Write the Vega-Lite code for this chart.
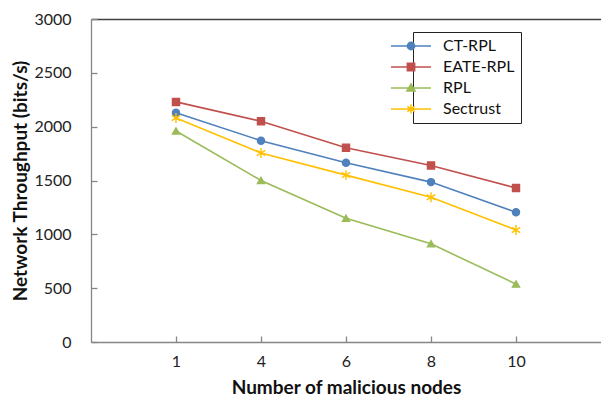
{
  "$schema": "https://vega.github.io/schema/vega-lite/v6.json",
  "autosize": "none",
  "padding": {"left": 91, "top": 19, "right": 0, "bottom": 60},
  "width": 510,
  "height": 323,
  "background": "white",
  "config": {"view": {"stroke": null}, "font": "Lato"},
  "data": {"values": [
    {"nodes": "1", "series": "CT-RPL", "value": 2130},
    {"nodes": "4", "series": "CT-RPL", "value": 1870},
    {"nodes": "6", "series": "CT-RPL", "value": 1665},
    {"nodes": "8", "series": "CT-RPL", "value": 1485},
    {"nodes": "10", "series": "CT-RPL", "value": 1205},
    {"nodes": "1", "series": "EATE-RPL", "value": 2230},
    {"nodes": "4", "series": "EATE-RPL", "value": 2050},
    {"nodes": "6", "series": "EATE-RPL", "value": 1805},
    {"nodes": "8", "series": "EATE-RPL", "value": 1640},
    {"nodes": "10", "series": "EATE-RPL", "value": 1430},
    {"nodes": "1", "series": "RPL", "value": 1960},
    {"nodes": "4", "series": "RPL", "value": 1500},
    {"nodes": "6", "series": "RPL", "value": 1150},
    {"nodes": "8", "series": "RPL", "value": 912},
    {"nodes": "10", "series": "RPL", "value": 538},
    {"nodes": "1", "series": "Sectrust", "value": 2080},
    {"nodes": "4", "series": "Sectrust", "value": 1755},
    {"nodes": "6", "series": "Sectrust", "value": 1550},
    {"nodes": "8", "series": "Sectrust", "value": 1345},
    {"nodes": "10", "series": "Sectrust", "value": 1040}
  ]},
  "encoding": {
    "x": {
      "field": "nodes", "type": "ordinal", "sort": ["1", "4", "6", "8", "10"],
      "scale": {"type": "point", "padding": 1},
      "axis": {
        "title": "Number of malicious nodes", "titleFontSize": 19, "titleFontWeight": "bold",
        "titleColor": "#111", "titlePadding": 9,
        "labelAngle": 0, "labelFontSize": 16, "labelColor": "#222", "labelPadding": 17,
        "domainColor": "#868686", "domainWidth": 1.3, "tickColor": "#868686", "tickWidth": 1.3,
        "tickSize": -6, "grid": false
      }
    },
    "y": {
      "field": "value", "type": "quantitative",
      "scale": {"domain": [0, 3000], "nice": false},
      "axis": {
        "title": "Network Throughput (bits/s)", "titleFontSize": 19, "titleFontWeight": "bold",
        "titleColor": "#111", "titlePadding": 3, "format": "d",
        "values": [0, 500, 1000, 1500, 2000, 2500, 3000],
        "labelFontSize": 16, "labelColor": "#222", "labelPadding": 26,
        "domainColor": "#868686", "domainWidth": 1.3, "tickColor": "#868686", "tickWidth": 1.3,
        "tickSize": -6, "grid": true, "gridWidth": 1.3,
        "gridColor": {"condition": {"test": "datum.value === 3000", "value": "#404040"}, "value": "transparent"}
      }
    }
  },
  "layer": [
    {
      "mark": {"type": "line", "strokeWidth": 1.6},
      "encoding": {
        "color": {
          "field": "series", "type": "nominal",
          "scale": {"domain": ["CT-RPL", "EATE-RPL", "RPL", "Sectrust"], "range": ["#4F81BD", "#C0504D", "#9BBB59", "#FFC000"]},
          "legend": null
        }
      }
    },
    {
      "mark": {"type": "point", "filled": true, "opacity": 1, "size": 50, "strokeWidth": 1.4},
      "encoding": {
        "fill": {
          "field": "series", "type": "nominal",
          "scale": {"domain": ["CT-RPL", "EATE-RPL", "RPL", "Sectrust"], "range": ["#4F81BD", "#C0504D", "#9BBB59", "#FFC000"]},
          "legend": null
        },
        "stroke": {
          "field": "series", "type": "nominal",
          "scale": {"domain": ["CT-RPL", "EATE-RPL", "RPL", "Sectrust"], "range": ["#4F81BD", "#C0504D", "#9BBB59", "#FFC000"]},
          "legend": null
        },
        "shape": {
          "field": "series", "type": "nominal",
          "scale": {"domain": ["CT-RPL", "EATE-RPL", "RPL", "Sectrust"], "range": ["circle", "square", "triangle-up", "M0,-1.4L0,1.4M-1.2,-0.75L1.2,0.75M-1.2,0.75L1.2,-0.75"]},
          "legend": null
        }
      }
    },
    {
      "transform": [{"filter": "datum.value < 0"}],
      "mark": {"type": "point", "filled": true, "opacity": 1, "strokeWidth": 1.6},
      "encoding": {
        "fill": {
          "field": "series", "type": "nominal",
          "scale": {"domain": ["CT-RPL", "EATE-RPL", "RPL", "Sectrust"], "range": ["#4F81BD", "#C0504D", "#9BBB59", "#FFC000"]},
          "legend": {"orient": "none", "legendX": 322, "legendY": 13, "title": null, "strokeColor": "#222", "padding": 6, "symbolSize": 64, "symbolStrokeWidth": 1.6, "labelFontSize": 16, "labelColor": "#111", "labelOffset": 8, "rowPadding": 5}
        },
        "stroke": {
          "field": "series", "type": "nominal",
          "scale": {"domain": ["CT-RPL", "EATE-RPL", "RPL", "Sectrust"], "range": ["#4F81BD", "#C0504D", "#9BBB59", "#FFC000"]},
          "legend": {"orient": "none", "legendX": 322, "legendY": 13, "title": null, "strokeColor": "#222", "padding": 6, "symbolSize": 64, "symbolStrokeWidth": 1.6, "labelFontSize": 16, "labelColor": "#111", "labelOffset": 8, "rowPadding": 5}
        },
        "shape": {
          "field": "series", "type": "nominal",
          "scale": {"domain": ["CT-RPL", "EATE-RPL", "RPL", "Sectrust"], "range": [
            "M-9,0L1,0M-3.1,0A0.9,0.9,0,1,1,-4.9,0A0.9,0.9,0,1,1,-3.1,0Z",
            "M-9,0L1,0M-4.9,-0.9L-3.1,-0.9L-3.1,0.9L-4.9,0.9Z",
            "M-9,0L1,0M-4,-1L-3,0.75L-5,0.75Z",
            "M-9,0L1,0M-4,-1.1L-4,1.1M-4.9,-0.65L-3.1,0.65M-4.9,0.65L-3.1,-0.65"
          ]},
          "legend": {"orient": "none", "legendX": 322, "legendY": 13, "title": null, "strokeColor": "#222", "padding": 6, "symbolSize": 64, "symbolStrokeWidth": 1.6, "labelFontSize": 16, "labelColor": "#111", "labelOffset": 8, "rowPadding": 5}
        }
      }
    }
  ],
  "resolve": {"scale": {"color": "independent", "fill": "independent", "stroke": "independent", "shape": "independent"}}
}
